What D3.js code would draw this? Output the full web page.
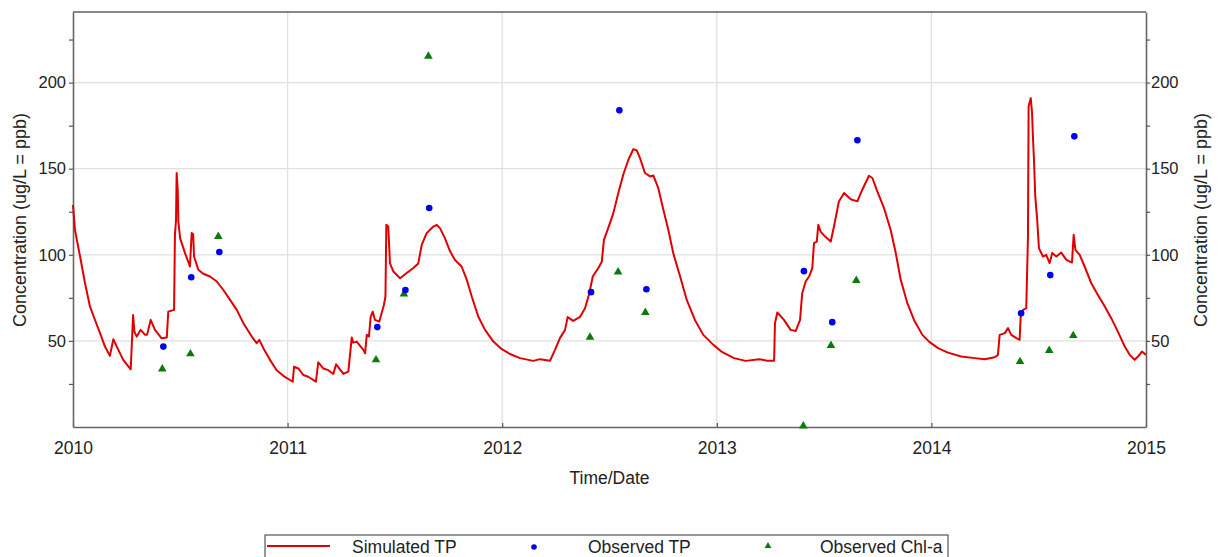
<!DOCTYPE html>
<html>
<head>
<meta charset="utf-8">
<script src="https://cdn.jsdelivr.net/npm/d3@7"></script>
<style>
  body { margin: 0; background: #fff; }
  text { font-family: "Liberation Sans", Arial, sans-serif; fill: #222; }
</style>
</head>
<body>
<svg id="chart" width="1222" height="557"></svg>
<script>
// simulated TP, [decimal year, ug/L]
const simulatedTP = [
  [2010.000,129],[2010.009,114.5],[2010.033,99],[2010.056,83.5],[2010.079,70],[2010.103,62],[2010.126,54.5],
  [2010.149,46.7],[2010.172,41.3],[2010.188,51],[2010.204,46.7],[2010.234,39],[2010.269,33.5],[2010.280,65],
  [2010.286,55.4],[2010.297,52.5],[2010.315,56.4],[2010.336,53.5],[2010.345,53.5],[2010.362,62.2],[2010.382,56.4],
  [2010.413,51.5],[2010.437,52],[2010.444,67],[2010.471,68],[2010.475,111.6],[2010.480,120],[2010.483,147.5],
  [2010.488,137.8],[2010.491,119.4],[2010.499,109.7],[2010.522,101],[2010.545,93.2],[2010.553,112.6],[2010.560,112],
  [2010.564,99],[2010.584,91.3],[2010.607,89],[2010.638,87.4],[2010.670,84.5],[2010.700,79.7],[2010.732,73.8],
  [2010.763,68],[2010.794,60.3],[2010.833,52.5],[2010.856,48.7],[2010.868,50.6],[2010.887,45.8],[2010.918,39],
  [2010.949,33],[2010.980,29.7],[2011.011,27.3],[2011.024,26.3],[2011.030,35],[2011.050,34],[2011.073,30.2],
  [2011.096,29.2],[2011.132,26.3],[2011.143,37.6],[2011.166,34],[2011.190,33],[2011.213,30.8],[2011.226,36.4],
  [2011.260,30.8],[2011.283,32.2],[2011.299,52],[2011.306,49],[2011.322,49.6],[2011.334,47.7],[2011.353,44.8],
  [2011.361,42.8],[2011.369,53.5],[2011.379,52.5],[2011.387,64],[2011.397,67],[2011.407,62.2],[2011.427,61.2],
  [2011.438,66],[2011.449,71],[2011.456,75.8],[2011.460,117.4],[2011.469,116.4],[2011.477,95],[2011.493,90.3],
  [2011.524,86.4],[2011.555,89.4],[2011.586,92.3],[2011.609,95],[2011.625,105.8],[2011.648,112.6],[2011.679,116.4],
  [2011.695,117.4],[2011.710,115.5],[2011.733,109.7],[2011.757,102],[2011.780,97],[2011.811,93.2],[2011.835,85.5],
  [2011.858,75.8],[2011.889,64],[2011.920,56.4],[2011.959,49.6],[2011.998,45.2],[2012.036,42.4],[2012.083,40],
  [2012.145,38.4],[2012.176,39.4],[2012.223,38.5],[2012.246,44.8],[2012.269,51.6],[2012.293,56.4],[2012.305,63.8],
  [2012.331,61.6],[2012.363,64],[2012.386,69],[2012.406,77.7],[2012.422,87.4],[2012.448,92.3],[2012.464,96],
  [2012.474,108.7],[2012.494,115.5],[2012.518,124.2],[2012.541,135.9],[2012.564,146.5],[2012.588,155.2],
  [2012.611,161.4],[2012.627,160.6],[2012.642,156.2],[2012.665,147.5],[2012.689,145.5],[2012.704,146.1],
  [2012.727,138.8],[2012.751,126.2],[2012.774,114.5],[2012.797,101],[2012.829,87.4],[2012.860,73.8],[2012.898,62.2],
  [2012.937,53.5],[2012.984,47.7],[2013.024,43.6],[2013.080,40],[2013.135,38.4],[2013.197,39.4],[2013.235,38.5],
  [2013.267,38.5],[2013.271,60.2],[2013.282,66.5],[2013.313,62.2],[2013.344,56.4],[2013.368,55.8],[2013.388,62.2],
  [2013.398,77.7],[2013.414,84.5],[2013.430,87.4],[2013.445,92.3],[2013.453,106.8],[2013.466,107.7],[2013.473,117.4],
  [2013.484,113.5],[2013.507,110.3],[2013.531,107.7],[2013.546,116.4],[2013.569,131],[2013.593,135.9],[2013.624,132.3],
  [2013.655,131],[2013.678,137.8],[2013.709,145.9],[2013.725,144.6],[2013.748,136.8],[2013.779,127.2],[2013.810,114.5],
  [2013.834,101],[2013.857,85.5],[2013.888,71.9],[2013.919,62.2],[2013.958,53.5],[2013.989,49.6],[2014.031,45.8],
  [2014.077,43.2],[2014.139,40.9],[2014.202,40],[2014.248,39.4],[2014.295,40.5],[2014.310,41.9],[2014.318,53.5],
  [2014.342,54.5],[2014.357,57.4],[2014.372,53.5],[2014.396,51.6],[2014.411,50.6],[2014.416,64],[2014.427,68],
  [2014.442,69],[2014.450,110.6],[2014.453,186.2],[2014.463,191],[2014.469,182.4],[2014.473,168.8],[2014.478,155.2],
  [2014.484,133.9],[2014.493,120.3],[2014.501,103.9],[2014.520,99],[2014.535,100],[2014.551,95.2],[2014.563,101],
  [2014.582,99],[2014.605,101.3],[2014.629,97.1],[2014.655,95.5],[2014.663,111.6],[2014.671,102.9],[2014.691,100],
  [2014.714,93.2],[2014.745,83.5],[2014.776,76.7],[2014.808,70],[2014.838,63.2],[2014.869,55.4],[2014.901,46.7],
  [2014.924,41.9],[2014.947,39],[2014.963,40.9],[2014.981,43.8],[2015.000,41.9]
];

const observedTP = [
  [2010.421,46.7],[2010.551,87.0],[2010.682,101.6],[2011.418,58.0],[2011.549,79.5],[2011.660,127.2],
  [2012.414,78.3],[2012.546,183.9],[2012.672,80.0],[2013.406,90.5],[2013.538,60.9],[2013.655,166.5],
  [2014.418,66.1],[2014.554,88.2],[2014.666,168.8]
];

const observedChl = [
  [2010.416,33.1],[2010.547,41.9],[2010.677,110.1],[2011.412,38.4],[2011.542,76.7],[2011.656,214.7],
  [2012.409,51.6],[2012.540,89.4],[2012.667,65.9],[2013.403,0],[2013.532,46.7],[2013.650,84.5],
  [2014.413,37.4],[2014.549,43.8],[2014.661,52.5]
];

const yearTicks = [2010, 2011, 2012, 2013, 2014, 2015];
const yMajor = [50, 100, 150, 200];
const yMinor = [25, 75, 125, 175, 225];
const legendNames = ["Simulated TP", "Observed TP", "Observed Chl-a"];

const svg = d3.select("#chart");
const plotLeft = 73, plotRight = 1146, plotTop = 12, plotBottom = 427;

const x = d3.scaleLinear().domain([2010, 2015]).range([plotLeft, plotRight]);
const y = d3.scaleLinear().domain([0, 241]).range([plotBottom, plotTop]);

// grid
svg.append("g").selectAll("line").data(yearTicks.slice(1, -1)).enter().append("line")
  .attr("x1", d => x(d)).attr("x2", d => x(d)).attr("y1", plotTop).attr("y2", plotBottom)
  .attr("stroke", "#e0e0e0").attr("stroke-width", 1.3);
svg.append("g").selectAll("line").data(yMajor).enter().append("line")
  .attr("x1", plotLeft).attr("x2", plotRight).attr("y1", d => y(d)).attr("y2", d => y(d))
  .attr("stroke", "#e0e0e0").attr("stroke-width", 1.3);

// top border
svg.append("line").attr("x1", plotLeft).attr("x2", plotRight).attr("y1", plotTop).attr("y2", plotTop)
  .attr("stroke", "#111").attr("stroke-width", 1.2);

// axes
const allY = yMajor.concat(yMinor).sort((a, b) => a - b);
const xAxis = d3.axisBottom(x).tickValues(yearTicks).tickFormat(d3.format("d")).tickSizeInner(-4).tickSizeOuter(0).tickPadding(15);
const yLeft = d3.axisLeft(y).tickValues(allY).tickFormat(d => yMajor.includes(d) ? d : "").tickSize(4).tickSizeOuter(0).tickPadding(3);
const yRight = d3.axisRight(y).tickValues(allY).tickFormat(d => yMajor.includes(d) ? d : "").tickSize(4).tickSizeOuter(0).tickPadding(1);

function styleAxis(g, size) {
  g.select(".domain").attr("stroke", "#666").attr("stroke-width", 1.6);
  g.selectAll(".tick line").attr("stroke", "#555").attr("stroke-width", 1.2);
  g.selectAll(".tick text").style("font-size", size).style("font-family", "Liberation Sans, Arial, sans-serif").attr("fill", "#222");
}
svg.append("g").attr("transform", `translate(0,${plotBottom})`).call(xAxis).call(styleAxis, "17.5px");
svg.append("g").attr("transform", `translate(${plotLeft},0)`).call(yLeft).call(styleAxis, "16.5px");
svg.append("g").attr("transform", `translate(${plotRight},0)`).call(yRight).call(styleAxis, "16.5px");

// axis titles
const midY = (plotTop + plotBottom) / 2 + 0.5;
svg.append("text").attr("transform", `translate(26,${midY}) rotate(-90)`)
  .attr("text-anchor", "middle").style("font-size", "18px").text("Concentration (ug/L = ppb)");
svg.append("text").attr("transform", `translate(1207,${midY}) rotate(-90)`)
  .attr("text-anchor", "middle").style("font-size", "18px").text("Concentration (ug/L = ppb)");
svg.append("text").attr("x", (plotLeft + plotRight) / 2).attr("y", 484)
  .attr("text-anchor", "middle").style("font-size", "17.5px").text("Time/Date");

// simulated line
const line = d3.line().x(d => x(d[0])).y(d => y(d[1]));
svg.append("path").datum(simulatedTP).attr("d", line)
  .attr("fill", "none").attr("stroke", "#e00000").attr("stroke-width", 2).attr("stroke-linejoin", "round");

// observed points
const tri = d3.symbol().type(d3.symbolTriangle).size(32);
svg.append("g").selectAll("path").data(observedChl).enter().append("path")
  .attr("d", tri).attr("transform", d => `translate(${x(d[0])},${y(d[1]) - 1})`).attr("fill", "#0a7a0a");
svg.append("g").selectAll("circle").data(observedTP).enter().append("circle")
  .attr("cx", d => x(d[0])).attr("cy", d => y(d[1])).attr("r", 3.3).attr("fill", "#0000ee");

// legend
const lg = svg.append("g").attr("transform", "translate(265,535)");
lg.append("rect").attr("width", 683).attr("height", 30).attr("fill", "#fff").attr("stroke", "#333").attr("stroke-width", 1);
lg.append("line").attr("x1", 2).attr("x2", 65).attr("y1", 11).attr("y2", 11).attr("stroke", "#e00000").attr("stroke-width", 2);
lg.append("circle").attr("cx", 269).attr("cy", 12).attr("r", 2.8).attr("fill", "#0000ee");
lg.append("path").attr("d", d3.symbol().type(d3.symbolTriangle).size(20)).attr("transform", "translate(503,11)").attr("fill", "#0a7a0a");
const legendX = [87, 323, 555];
lg.selectAll("text.lab").data(legendNames).enter().append("text").attr("class", "lab")
  .attr("x", (d, i) => legendX[i]).attr("y", 18).style("font-size", "17.5px").text(d => d);
</script>
</body>
</html>
